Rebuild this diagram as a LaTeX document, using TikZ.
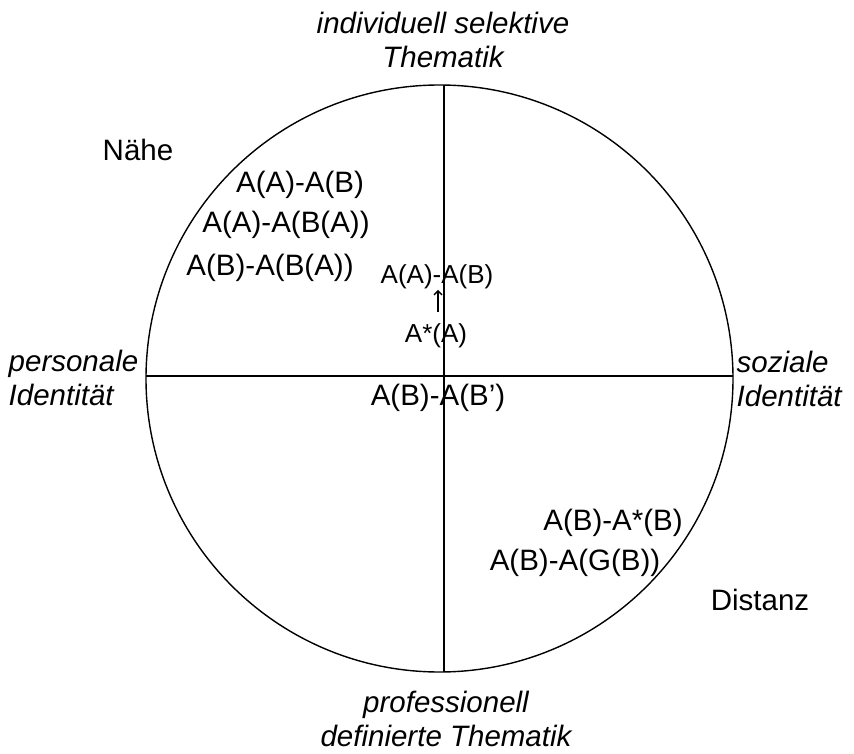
\documentclass[tikz,border=0pt]{standalone}
\usepackage{fontspec}
\setmainfont{Liberation Sans}
\usetikzlibrary{arrows.meta}
\tikzset{
  lbl/.style  ={font=\fontsize{29.5}{34}\selectfont, inner sep=0pt},
  small/.style={font=\fontsize{26}{30}\selectfont, inner sep=0pt},
  pole/.style ={font=\fontsize{29.5}{34.5}\selectfont\itshape, inner sep=0pt, align=center},
  >={Straight Barb[length=4pt,width=8pt]}
}
\begin{document}
\begin{tikzpicture}[x=1pt,y=-1pt,line width=1.4pt]
\useasboundingbox (0,0) rectangle (854,754);

% -------- circle and axes --------
\coordinate (c) at (439.5,378.5);
\coordinate (top) at (444,85);
\coordinate (bot) at (444,672);
\coordinate (lft) at (146,376);
\coordinate (rgt) at (733,376);
\draw (c) circle[radius=293.5];
\draw (top) -- (bot);
\draw (lft) -- (rgt);

% -------- poles --------
\node[pole] (ist) at (443,40) {individuell selektive\\Thematik};
\node[pole] (pdt) at (446,719) {professionell\\definierte Thematik};
\node[pole, anchor=west, align=left] (pid) at (8,378) {personale\\Identit\"at};
\node[pole, anchor=west, align=left] (sid) at (736,379) {soziale\\Identit\"at};

% -------- Naehe / Distanz --------
\node[lbl] (nah) at (138,150) {N\"ahe};
\node[lbl] (dis) at (760,600) {Distanz};

% -------- relations --------
\node[lbl] (r1) at (300,185) {A(A)-A(B)};
\node[lbl] (r2) at (286,225) {A(A)-A(B(A))};
\node[lbl] (r3) at (270,268) {A(B)-A(B(A))};
\node[small] (r4) at (437,277) {A(A)-A(B)};
\node[small] (r5) at (436,336) {A*(A)};
\node[lbl] (r6) at (438,398) {A(B)-A(B')};
\node[lbl] (r7) at (613,523) {A(B)-A*(B)};
\node[lbl] (r8) at (575,563) {A(B)-A(G(B))};

\coordinate (a0) at (438,312);
\draw[->] (a0) -- (r4.south -| a0);

\end{tikzpicture}
\end{document}
